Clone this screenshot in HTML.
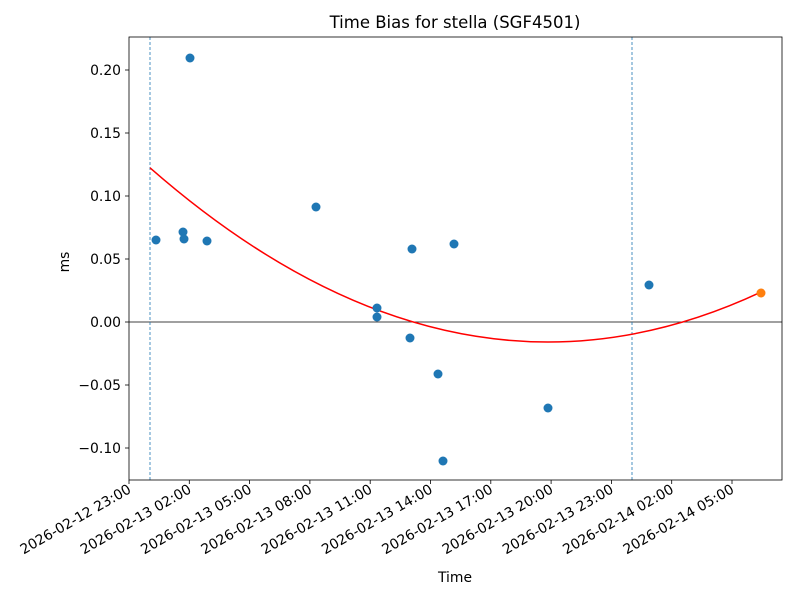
<!DOCTYPE html>
<html><head><meta charset="utf-8"><style>body{margin:0;background:#fff}svg{display:block;font-family:"DejaVu Sans","Liberation Sans",sans-serif}</style></head><body>
<svg width="800" height="600" xmlns="http://www.w3.org/2000/svg">
<rect width="800" height="600" fill="#fff"/>
<text x="455" y="28" font-size="16.5" text-anchor="middle">Time Bias for stella (SGF4501)</text>
<line x1="129" y1="322" x2="782" y2="322" stroke="#000" stroke-width="0.8"/>
<line x1="150" y1="37" x2="150" y2="480" stroke="#1f77b4" stroke-width="0.8" stroke-dasharray="3,2"/>
<line x1="632" y1="37" x2="632" y2="480" stroke="#1f77b4" stroke-width="0.8" stroke-dasharray="3,2"/>
<path fill="none" stroke="red" stroke-width="1.5" d="M150,167.8 Q455.4,435.2 761,292.1"/>
<g fill="#1f77b4">
<circle cx="156" cy="240" r="4.5"/><circle cx="183" cy="232" r="4.5"/><circle cx="184" cy="239" r="4.5"/><circle cx="207" cy="241" r="4.5"/><circle cx="190" cy="58" r="4.5"/><circle cx="316" cy="207" r="4.5"/><circle cx="377" cy="308" r="4.5"/><circle cx="377" cy="317" r="4.5"/><circle cx="410" cy="338" r="4.5"/><circle cx="412" cy="249" r="4.5"/><circle cx="438" cy="374" r="4.5"/><circle cx="443" cy="461" r="4.5"/><circle cx="454" cy="244" r="4.5"/><circle cx="548" cy="408" r="4.5"/><circle cx="649" cy="285" r="4.5"/>
</g>
<circle cx="761" cy="293" r="4.5" fill="#ff7f0e"/>
<rect x="129" y="37" width="653" height="443" fill="none" stroke="#000" stroke-width="0.8"/>
<g stroke="#000" stroke-width="0.8">
<line x1="125" x2="129" y1="70" y2="70"/><line x1="125" x2="129" y1="133" y2="133"/><line x1="125" x2="129" y1="196" y2="196"/><line x1="125" x2="129" y1="259" y2="259"/><line x1="125" x2="129" y1="322" y2="322"/><line x1="125" x2="129" y1="385" y2="385"/><line x1="125" x2="129" y1="448" y2="448"/>
<line x1="129" x2="129" y1="480" y2="484"/><line x1="189.3" x2="189.3" y1="480" y2="484"/><line x1="249.6" x2="249.6" y1="480" y2="484"/><line x1="309.9" x2="309.9" y1="480" y2="484"/><line x1="370.2" x2="370.2" y1="480" y2="484"/><line x1="430.5" x2="430.5" y1="480" y2="484"/><line x1="490.8" x2="490.8" y1="480" y2="484"/><line x1="551.1" x2="551.1" y1="480" y2="484"/><line x1="611.4" x2="611.4" y1="480" y2="484"/><line x1="671.7" x2="671.7" y1="480" y2="484"/><line x1="732" x2="732" y1="480" y2="484"/>
</g>
<g font-size="13.9" text-anchor="end">
<text x="121" y="75">0.20</text><text x="121" y="138">0.15</text><text x="121" y="201">0.10</text><text x="121" y="264">0.05</text><text x="121" y="327">0.00</text><text x="121" y="390">−0.05</text><text x="121" y="453">−0.10</text>
</g>
<g font-size="13.9" text-anchor="end">
<text transform="translate(132,492) rotate(-30)">2026-02-12 23:00</text>
<text transform="translate(192.3,492) rotate(-30)">2026-02-13 02:00</text>
<text transform="translate(252.6,492) rotate(-30)">2026-02-13 05:00</text>
<text transform="translate(312.9,492) rotate(-30)">2026-02-13 08:00</text>
<text transform="translate(373.2,492) rotate(-30)">2026-02-13 11:00</text>
<text transform="translate(433.5,492) rotate(-30)">2026-02-13 14:00</text>
<text transform="translate(493.8,492) rotate(-30)">2026-02-13 17:00</text>
<text transform="translate(554.1,492) rotate(-30)">2026-02-13 20:00</text>
<text transform="translate(614.4,492) rotate(-30)">2026-02-13 23:00</text>
<text transform="translate(674.7,492) rotate(-30)">2026-02-14 02:00</text>
<text transform="translate(735,492) rotate(-30)">2026-02-14 05:00</text>
</g>
<text x="455" y="582" font-size="13.9" text-anchor="middle">Time</text>
<text x="69" y="262" font-size="13.9" text-anchor="middle" transform="rotate(-90 69 262)">ms</text>
</svg>
</body></html>
